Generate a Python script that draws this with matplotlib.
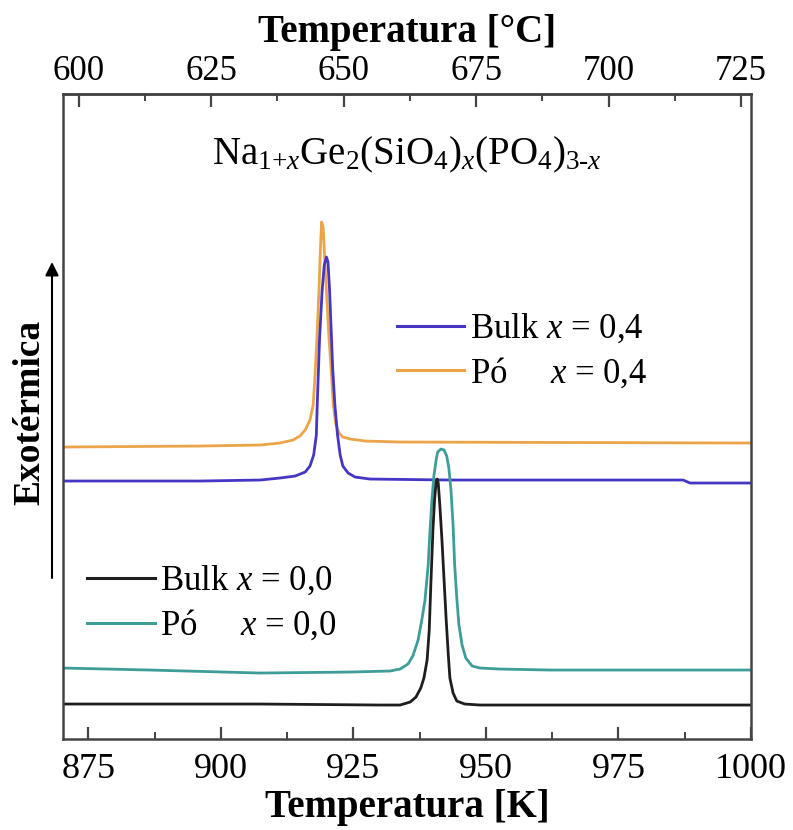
import matplotlib
matplotlib.use("Agg")
import matplotlib.pyplot as plt
from matplotlib.lines import Line2D
from matplotlib.ticker import MultipleLocator, FixedLocator

plt.rcParams['font.family'] = ['Liberation Serif', 'DejaVu Serif']
plt.rcParams['mathtext.fontset'] = 'custom'
plt.rcParams['mathtext.rm'] = 'Liberation Serif'
plt.rcParams['mathtext.it'] = 'Liberation Serif:italic'
plt.rcParams['mathtext.bf'] = 'Liberation Serif:bold'

# ---- data (temperature in K, heat flow in arbitrary units, offset stacked) ----
bulk04_T = [870.2, 896.0, 907.4, 911.1, 914.0, 915.9, 916.8, 917.5, 918.0, 918.2,
            918.6, 919.1, 919.5, 919.9, 920.2, 920.5, 920.8, 921.1, 921.5, 922.0,
            922.5, 923.0, 924.0, 925.3, 928.1, 943.2, 987.2, 988.5, 1000.0]
bulk04_y = [25.8, 25.8, 25.9, 26.1, 26.3, 26.7, 27.3, 28.4, 30.4, 33.9,
            39.9, 44.9, 47.4, 48.2, 47.7, 44.9, 40.9, 36.9, 33.4, 30.4,
            28.4, 27.3, 26.6, 26.2, 26.0, 25.9, 25.9, 25.6, 25.6]

po04_T = [870.2, 896.0, 907.4, 911.1, 913.6, 914.9, 915.9, 916.8, 917.4, 917.7,
          918.1, 918.5, 918.8, 919.0, 919.3, 919.5, 919.9, 920.3, 920.8, 921.2,
          921.7, 922.3, 923.0, 924.4, 927.2, 933.8, 1000.0]
po04_y = [29.2, 29.3, 29.4, 29.6, 29.9, 30.3, 30.9, 31.9, 33.4, 35.9,
          39.9, 44.9, 49.4, 51.7, 51.1, 48.9, 44.9, 40.9, 36.9, 33.4,
          31.4, 30.6, 30.2, 30.0, 29.8, 29.7, 29.6]

bulk00_T = [870.2, 907.4, 930.0, 933.8, 935.7, 936.8, 937.7, 938.3, 938.9, 939.3,
            939.6, 940.0, 940.3, 940.6, 940.8, 941.0, 941.3, 941.7, 942.1, 942.5,
            942.9, 943.2, 943.8, 944.5, 946.0, 948.9, 971.5, 1000.0]
bulk00_y = [3.5, 3.5, 3.4, 3.4, 3.7, 4.2, 5.1, 6.1, 7.9, 10.9,
            15.4, 20.9, 23.9, 25.7, 26.0, 25.6, 23.4, 19.9, 15.9, 11.9,
            8.4, 6.1, 4.6, 3.8, 3.5, 3.4, 3.4, 3.4]

po00_T = [870.2, 886.6, 907.4, 924.4, 931.9, 933.8, 935.3, 936.2, 937.2, 937.9,
          938.5, 939.1, 939.4, 939.8, 940.2, 940.6, 940.9, 941.5, 942.1, 942.6,
          943.0, 943.4, 943.8, 944.1, 944.5, 944.9, 945.5, 946.2, 947.4, 948.9,
          952.6, 962.1, 1000.0]
po00_y = [7.1, 6.9, 6.6, 6.7, 6.8, 7.0, 7.5, 8.3, 9.9, 11.9,
          13.9, 17.4, 20.4, 23.9, 26.4, 27.9, 28.7, 29.0, 28.9, 28.3,
          27.1, 24.9, 21.4, 17.4, 14.1, 11.4, 9.4, 8.1, 7.3, 7.1,
          7.0, 6.9, 6.9]

celsius_ticks = [600, 625, 650, 675, 700, 725]
labels_04 = ["Bulk $x$ = 0,4", "Pó     $x$ = 0,4"]
labels_00 = ["Bulk $x$ = 0,0", "Pó     $x$ = 0,0"]
formula = r"Na$_{1\mathrm{+}x}$Ge$_2$(SiO$_4$)$_x$(PO$_4$)$_{3\mathrm{\text{-}}x}$"

c_bulk04 = "#4536c4"
c_po04 = "#eba548"
c_bulk00 = "#1e1e1e"
c_po00 = "#3e9d99"

fig = plt.figure(figsize=(7.93, 8.30), dpi=100)
ax = fig.add_axes([0.0794, 0.1096, 0.8676, 0.7771])

lw = 2.0
kw = dict(lw=lw, solid_joinstyle='round', solid_capstyle='round')
ax.plot(po04_T, po04_y, color=c_po04, **kw)
ax.plot(bulk04_T, bulk04_y, color=c_bulk04, **kw)
ax.plot(po00_T, po00_y, color=c_po00, **kw)
ax.plot(bulk00_T, bulk00_y, color=c_bulk00, **kw)

ax.set_xlim(870.2, 1000.0)
ax.set_ylim(0, 64.5)
ax.set_yticks([])

spine_c = "#444444"
for s in ax.spines.values():
    s.set_color(spine_c)
    s.set_linewidth(1.8)

ax.xaxis.set_major_locator(MultipleLocator(25))
ax.xaxis.set_minor_locator(MultipleLocator(12.5))
ax.tick_params(axis='x', which='major', direction='in', length=9, width=1.6,
               color=spine_c, labelsize=26, pad=10)
ax.tick_params(axis='x', which='minor', direction='in', length=5, width=1.4,
               color=spine_c)
ax.set_xlabel("Temperatura [K]", fontsize=28, fontweight='bold', labelpad=2)

sec = ax.secondary_xaxis('top', functions=(lambda k: k - 273.15, lambda c: c + 273.15))
sec.xaxis.set_major_locator(FixedLocator(celsius_ticks))
sec.xaxis.set_minor_locator(FixedLocator([c + 12.5 for c in celsius_ticks[:-1]]))
sec.tick_params(axis='x', which='major', direction='in', length=9, width=1.6,
                color=spine_c, labelsize=25, pad=4)
sec.tick_params(axis='x', which='minor', direction='in', length=5, width=1.4,
                color=spine_c)
sec.spines['top'].set_color(spine_c)
sec.spines['top'].set_linewidth(1.8)
sec.set_xlabel("Temperatura [°C]", fontsize=28, fontweight='bold', labelpad=10)

ax.text(0.5, 0.905, formula, transform=ax.transAxes, ha='center', va='center',
        fontsize=28)

# legends
h04 = [Line2D([], [], color=c_bulk04, lw=2.2), Line2D([], [], color=c_po04, lw=2.2)]
leg1 = ax.legend(h04, labels_04, loc='center left', bbox_to_anchor=(0.485, 0.601),
                 frameon=False, fontsize=25, handlelength=1.95, handletextpad=0.15,
                 labelspacing=0.3, borderpad=0, borderaxespad=0)
ax.add_artist(leg1)
h00 = [Line2D([], [], color=c_bulk00, lw=2.2), Line2D([], [], color=c_po00, lw=2.2)]
ax.legend(h00, labels_00, loc='center left', bbox_to_anchor=(0.035, 0.21),
          frameon=False, fontsize=25, handlelength=1.95, handletextpad=0.15,
          labelspacing=0.3, borderpad=0, borderaxespad=0)

# Exothermic arrow and label
fig.text(30 / 793, 1 - 412 / 830, "Exotérmica", rotation=90, ha='center', va='center',
         fontsize=27, fontweight='bold')
ax.annotate("", xy=(52 / 793, 1 - 262 / 830), xytext=(52 / 793, 1 - 578 / 830),
            xycoords='figure fraction', textcoords='figure fraction',
            arrowprops=dict(arrowstyle='-|>', color='black', lw=1.5,
                            mutation_scale=20, shrinkA=0, shrinkB=0))

fig.savefig("out.png", dpi=100)
